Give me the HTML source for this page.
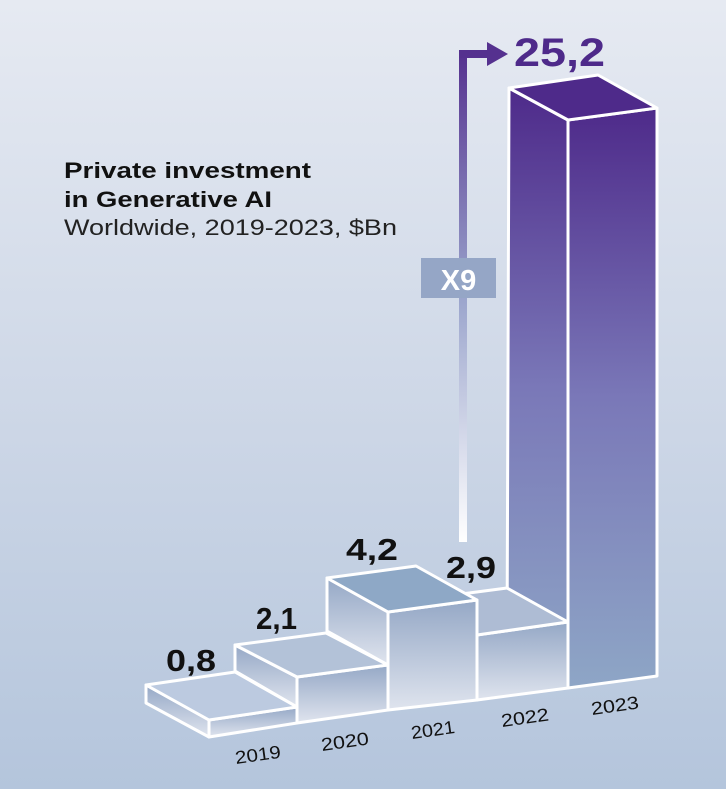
<!DOCTYPE html>
<html><head><style>
html,body{margin:0;padding:0}
body{width:726px;height:789px;overflow:hidden;background:linear-gradient(#e6eaf2,#ccd6e6 55%,#b4c5dc);font-family:"Liberation Sans",sans-serif}
</style></head><body>
<svg width="726" height="789" viewBox="0 0 726 789" xmlns="http://www.w3.org/2000/svg" style="display:block">
<defs>
<linearGradient id="big" x1="0" y1="0" x2="0" y2="1"><stop offset="0" stop-color="#4e2a8a"/><stop offset="0.5" stop-color="#7a78b8"/><stop offset="1" stop-color="#8ea6c6"/></linearGradient>
<linearGradient id="lt" x1="0" y1="0" x2="0" y2="1"><stop offset="0" stop-color="#95a8c6"/><stop offset="1" stop-color="#dfe4ee"/></linearGradient>
<linearGradient id="arr" x1="0" y1="0" x2="0" y2="1"><stop offset="0" stop-color="#55318f"/><stop offset="0.5" stop-color="#9aa4cc"/><stop offset="1" stop-color="#ffffff"/></linearGradient>
</defs>
<g stroke="#fff" stroke-width="3" stroke-linejoin="round">
<polygon points="509,88 568,120 568,688 507,652" fill="url(#big)"/>
<polygon points="568,120 657,108 657,676 568,688" fill="url(#big)"/>
<polygon points="509,88 568,120 657,108 598,75" fill="#4e2a8a"/>
<polygon points="477,635 568,622 568,688 477,700" fill="url(#lt)"/>
<polygon points="416,600 477,635 568,622 507,588" fill="#aebcd4"/>
<polygon points="327,578 388,612 388,665 327,631" fill="url(#lt)"/>
<polygon points="388,612 477,600 477,700 388,710" fill="url(#lt)"/>
<polygon points="327,578 388,612 477,600 416,566" fill="#8ea8c6"/>
<polygon points="235,645 297,677 297,707 235,671" fill="url(#lt)"/>
<polygon points="297,677 388,665 388,710 297,723" fill="url(#lt)"/>
<polygon points="235,645 297,677 388,665 326,633" fill="#b3c2d8"/>
<polygon points="146,685 209,720 209,737 146,703" fill="url(#lt)"/>
<polygon points="209,720 297,707 297,723 209,737" fill="url(#lt)"/>
<polygon points="146,685 209,720 297,707 235,672" fill="#bccae0"/>
</g>
<rect x="459" y="52" width="8" height="490" fill="url(#arr)"/>
<rect x="459" y="50" width="30" height="8" fill="#55318f"/>
<polygon points="487,42 508,54 487,66" fill="#55318f"/>
<rect x="421" y="258" width="75" height="40" fill="#95a6c6"/>
<text x="458.5" y="290" text-anchor="middle" font-size="29" font-weight="bold" fill="#fff">X9</text>
<text x="64" y="178" font-size="22" font-weight="bold" fill="#111" textLength="247" lengthAdjust="spacingAndGlyphs">Private investment</text>
<text x="64" y="207" font-size="22" font-weight="bold" fill="#111" textLength="208" lengthAdjust="spacingAndGlyphs">in Generative AI</text>
<text x="64" y="235" font-size="22" fill="#222" textLength="333" lengthAdjust="spacingAndGlyphs">Worldwide, 2019-2023, $Bn</text>
<g font-size="31" font-weight="bold" fill="#111">
<text x="166" y="671" textLength="50" lengthAdjust="spacingAndGlyphs">0,8</text>
<text x="256" y="629" textLength="41" lengthAdjust="spacingAndGlyphs">2,1</text>
<text x="346" y="560" textLength="52" lengthAdjust="spacingAndGlyphs">4,2</text>
<text x="446" y="578" textLength="50" lengthAdjust="spacingAndGlyphs">2,9</text>
</g>
<text x="514" y="66" font-size="40" font-weight="bold" fill="#4e2a8a" textLength="91" lengthAdjust="spacingAndGlyphs">25,2</text>
<g font-size="18" fill="#111">
<text transform="translate(236,764) rotate(-8)" textLength="46" lengthAdjust="spacingAndGlyphs">2019</text>
<text transform="translate(322,751) rotate(-8)" textLength="48" lengthAdjust="spacingAndGlyphs">2020</text>
<text transform="translate(412,739) rotate(-8)" textLength="44" lengthAdjust="spacingAndGlyphs">2021</text>
<text transform="translate(502,727) rotate(-8)" textLength="48" lengthAdjust="spacingAndGlyphs">2022</text>
<text transform="translate(592,715) rotate(-8)" textLength="48" lengthAdjust="spacingAndGlyphs">2023</text>
</g>
</svg>
</body></html>
